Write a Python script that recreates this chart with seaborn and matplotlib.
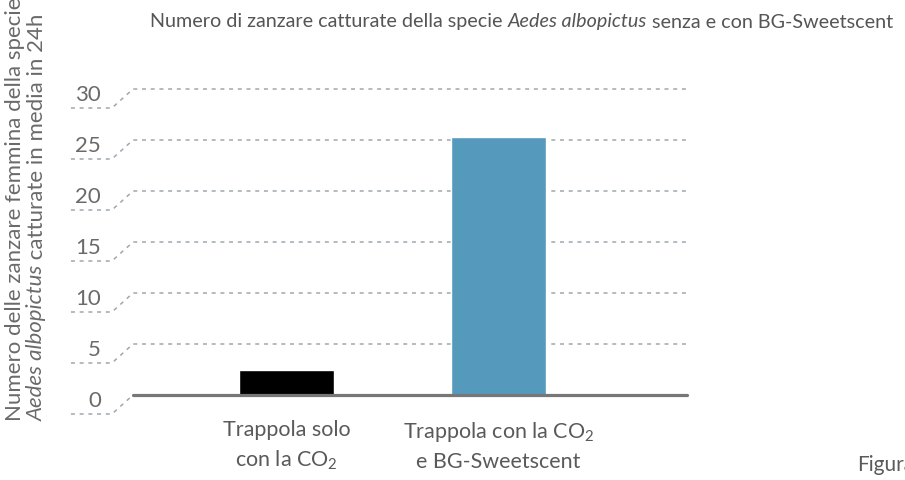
import numpy as np
import pandas as pd
import matplotlib
matplotlib.use("Agg")
import matplotlib.pyplot as plt
import seaborn as sns

# data
categories = ["Trappola solo\ncon la CO$_2$", "Trappola con la CO$_2$\ne BG-Sweetscent"]
values = [2.5, 25.3]
bar_colors = ["#000000", "#5599bd"]
yticks = [0, 5, 10, 15, 20, 25, 30]

title_parts = [("Numero di zanzare catturate della specie ", "normal"),
               ("Aedes albopictus", "italic"),
               (" senza e con BG-Sweetscent", "normal")]
ylab_line1 = "Numero delle zanzare femmina della specie"
ylab_line2 = [("Aedes albopictus", "italic"), (" catturate in media in 24h", "normal")]

sns.set_style("white")
plt.rcParams["font.family"] = ["Lato", "DejaVu Sans"]
plt.rcParams["mathtext.fontset"] = "custom"
plt.rcParams["mathtext.rm"] = "Lato"
plt.rcParams["mathtext.it"] = "Lato:italic"

W, H = 905, 481
fig = plt.figure(figsize=(W / 100, H / 100), dpi=100)
ax = fig.add_axes([133 / W, 85 / H, 554 / W, 306 / H])

df = pd.DataFrame({"cat": categories, "val": values})
sns.barplot(data=df, x="cat", y="val", hue="cat", palette=bar_colors,
            width=0.448, legend=False, ax=ax, saturation=1)

ax.set_ylim(0, 30)
ax.set_xlim(-0.724, 1.889)
for s in ax.spines.values():
    s.set_visible(False)
ax.set_yticks([])
ax.set_xlabel("")
ax.set_ylabel("")
ax.tick_params(axis="x", length=0, pad=17, labelsize=15.5, labelcolor="#5a5a5a")
for t in ax.get_xticklabels():
    t.set_linespacing(1.5)

# dashed gridlines with the little step to the tick label
grid_c = "#9ea7af"
off = 19 / 10.2
ytr = ax.get_yaxis_transform()
for v in yticks:
    xs = [-0.112, -0.038, 0.0]
    ys = [v - off, v - off, v]
    if v != 0:
        xs.append(1.0)
        ys.append(v)
    ax.plot(xs, ys, transform=ytr, clip_on=False, color=grid_c, lw=1.1,
            dashes=(2.6, 3.1), zorder=0)
    ax.text(-0.058, v - 0.45, str(v), transform=ytr, ha="right", va="center",
            fontsize=16, color="#6a6a6a")
ax.plot([0, 1], [0, 0], transform=ytr, clip_on=False, color="#777777", lw=2.3, zorder=3)

# title, with italic species name
fig.canvas.draw()
r = fig.canvas.get_renderer()
x = 150
for txt, st in title_parts:
    t = fig.text(x / W, 1 - 22 / H, txt, ha="left", va="center", fontsize=14.2,
                 color="#555555", style=st)
    x += t.get_window_extent(r).width

# y label, two rotated lines
fig.text(15 / W, 1 - 421 / H, ylab_line1, rotation=90, ha="center", va="bottom",
         fontsize=16, color="#6a6a6a")
y = 421
for txt, st in ylab_line2:
    t = fig.text(37 / W, 1 - y / H, txt, rotation=90, ha="center", va="bottom",
                 fontsize=16, color="#6a6a6a", style=st)
    y -= t.get_window_extent(r).height

fig.text(857 / W, 1 - 465 / H, "Figura", ha="left", va="center", fontsize=15,
         color="#5a5a5a")

fig.savefig("out.png", dpi=100)
